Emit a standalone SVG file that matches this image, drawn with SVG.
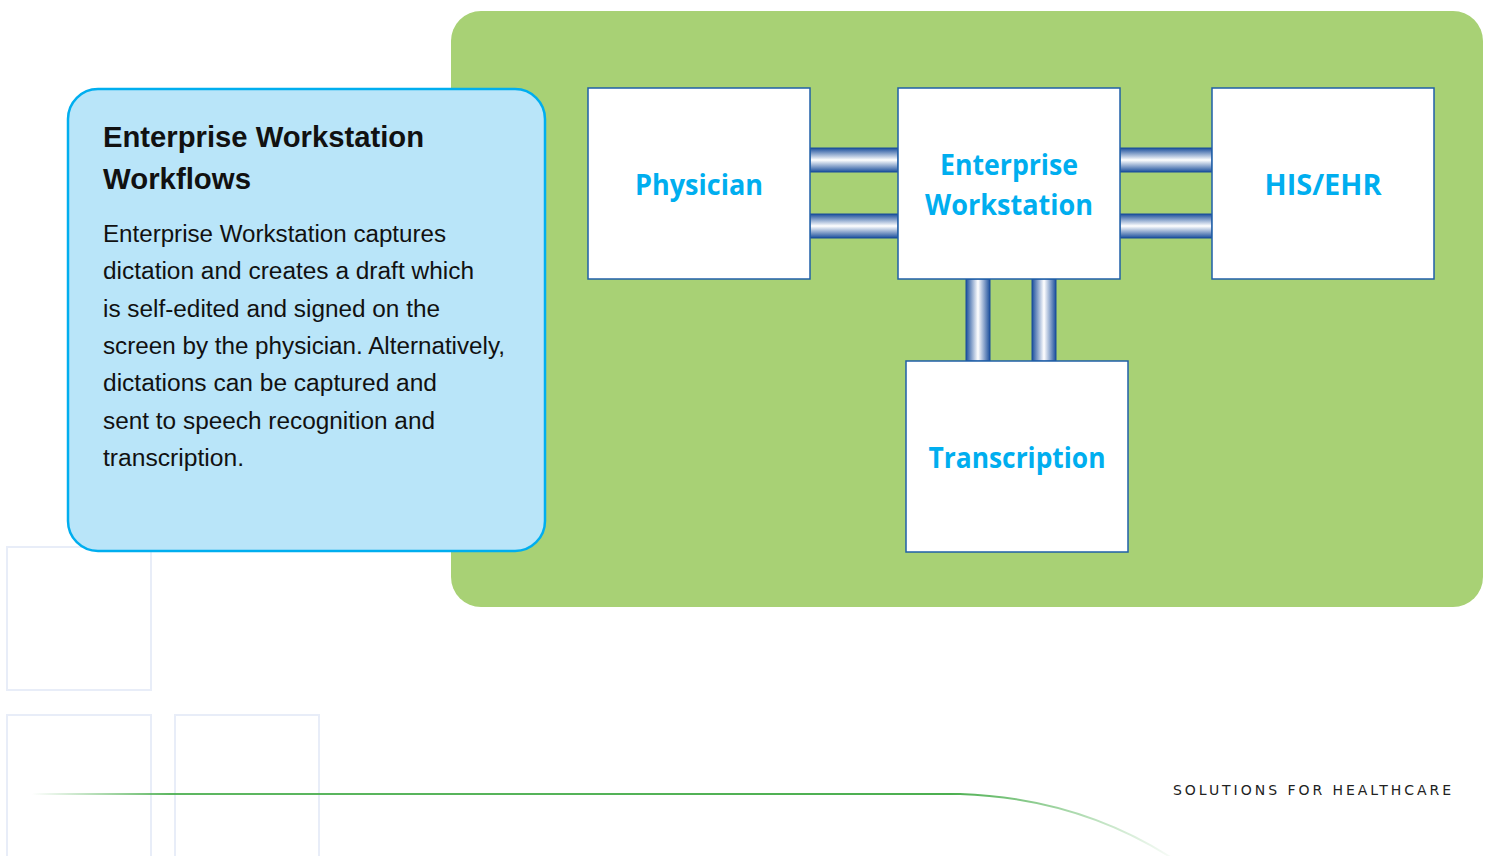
<svg xmlns="http://www.w3.org/2000/svg" width="1491" height="856" viewBox="0 0 1491 856">
<style>
.box{fill:#ffffff;stroke:#1f5fa8;stroke-width:1.5}
.lbl{font-family:"Open Sans","DejaVu Sans",sans-serif;font-weight:700;font-size:28px;fill:#00aeef;text-anchor:middle}
.body{font-family:"Liberation Sans",Arial,sans-serif;font-size:23px;fill:#111}
.title{font-family:"Liberation Sans",Arial,sans-serif;font-size:29px;font-weight:700;fill:#111}
.sq{fill:none;stroke:#e8edf8;stroke-width:2}
.hp{fill:url(#gh);stroke:#1b4f9c;stroke-width:1}
.vp{fill:url(#gv);stroke:#1b4f9c;stroke-width:1}
</style>
<defs>
<linearGradient id="gh" x1="0" y1="0" x2="0" y2="1">
<stop offset="0" stop-color="#1b4f9c"/><stop offset="0.5" stop-color="#ffffff"/><stop offset="1" stop-color="#1b4f9c"/>
</linearGradient>
<linearGradient id="gv" x1="0" y1="0" x2="1" y2="0">
<stop offset="0" stop-color="#1b4f9c"/><stop offset="0.5" stop-color="#ffffff"/><stop offset="1" stop-color="#1b4f9c"/>
</linearGradient>
<linearGradient id="gl" gradientUnits="userSpaceOnUse" x1="32" y1="0" x2="1180" y2="0">
<stop offset="0" stop-color="#4caf50" stop-opacity="0"/>
<stop offset="0.12" stop-color="#4caf50" stop-opacity="0.9"/>
<stop offset="0.8" stop-color="#4caf50" stop-opacity="1"/>
<stop offset="1" stop-color="#4caf50" stop-opacity="0"/>
</linearGradient>
</defs>
<rect width="1491" height="856" fill="#ffffff"/>
<g id="decor">
<rect class="sq" x="7" y="547" width="144" height="143"/>
<rect class="sq" x="7" y="715" width="144" height="150"/>
<rect class="sq" x="175" y="715" width="144" height="150"/>
<path d="M32 794 L960 794 Q1080 798 1175 860" fill="none" stroke="url(#gl)" stroke-width="2"/>
<text x="1173" y="795" textLength="278" lengthAdjust="spacing" font-family="'DejaVu Sans',sans-serif" font-size="14" fill="#222">SOLUTIONS FOR HEALTHCARE</text>
</g>
<g id="panel">
<rect x="451" y="11" width="1032" height="596" rx="30" fill="#a8d175"/>
</g>
<g id="info">
<rect x="68" y="89" width="477" height="462" rx="30" fill="#b9e5f9" stroke="#00aeef" stroke-width="2.5"/>
<text class="title" x="103" y="147" textLength="321" lengthAdjust="spacingAndGlyphs">Enterprise Workstation</text>
<text class="title" x="103" y="189" textLength="148" lengthAdjust="spacingAndGlyphs">Workflows</text>
<text class="body" x="103" y="242" textLength="343" lengthAdjust="spacingAndGlyphs">Enterprise Workstation captures</text>
<text class="body" x="103" y="279" textLength="371" lengthAdjust="spacingAndGlyphs">dictation and creates a draft which</text>
<text class="body" x="103" y="317" textLength="337" lengthAdjust="spacingAndGlyphs">is self-edited and signed on the</text>
<text class="body" x="103" y="354" textLength="402" lengthAdjust="spacingAndGlyphs">screen by the physician. Alternatively,</text>
<text class="body" x="103" y="391" textLength="334" lengthAdjust="spacingAndGlyphs">dictations can be captured and</text>
<text class="body" x="103" y="429" textLength="332" lengthAdjust="spacingAndGlyphs">sent to speech recognition and</text>
<text class="body" x="103" y="466" textLength="141" lengthAdjust="spacingAndGlyphs">transcription.</text>
</g>
<g id="connectors">
<rect class="hp" x="810" y="148" width="88" height="24"/>
<rect class="hp" x="810" y="214" width="88" height="24"/>
<rect class="hp" x="1120" y="148" width="92" height="24"/>
<rect class="hp" x="1120" y="214" width="92" height="24"/>
<rect class="vp" x="966" y="279" width="24" height="82"/>
<rect class="vp" x="1032" y="279" width="24" height="82"/>
</g>
<g id="physician">
<rect class="box" x="588" y="88" width="222" height="191"/>
<text class="lbl" x="699" y="195" textLength="128" lengthAdjust="spacingAndGlyphs">Physician</text>
</g>
<g id="enterprise-workstation">
<rect class="box" x="898" y="88" width="222" height="191"/>
<text class="lbl" x="1009" y="175" textLength="138" lengthAdjust="spacingAndGlyphs">Enterprise</text>
<text class="lbl" x="1009" y="215" textLength="168" lengthAdjust="spacingAndGlyphs">Workstation</text>
</g>
<g id="his-ehr">
<rect class="box" x="1212" y="88" width="222" height="191"/>
<text class="lbl" x="1323" y="195" textLength="117" lengthAdjust="spacingAndGlyphs">HIS/EHR</text>
</g>
<g id="transcription">
<rect class="box" x="906" y="361" width="222" height="191"/>
<text class="lbl" x="1017" y="468" textLength="177" lengthAdjust="spacingAndGlyphs">Transcription</text>
</g>
</svg>
